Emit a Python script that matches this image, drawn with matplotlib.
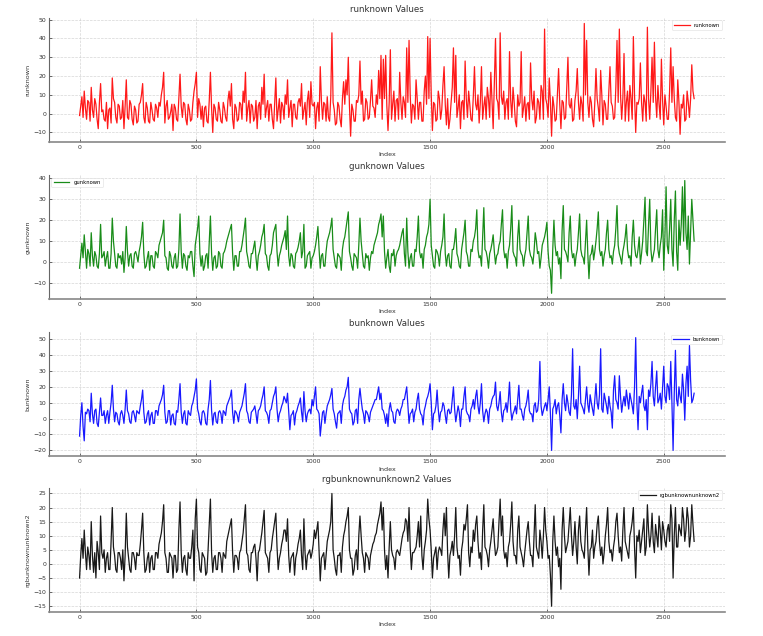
import numpy as np
import matplotlib.pyplot as plt

# readings: one every 10 samples, plus the in-between
# band readings at the half steps (index 5, 15, 25, ...)
index = np.arange(0, 2640, 10)
index_mid = np.arange(5, 2630, 10)

runknown = [
    -1, 9, 12, -3, 6, 14, -2, 5, -8, 16,
    2, -4, -8, 3, 19, 6, -5, 4, -2, -8,
    18, -3, 5, -6, 2, -4, 6, 16, -5, 3,
    -5, 2, -4, 3, 6, 10, 22, 4, -3, 1,
    -9, 3, -4, 21, -2, 5, -6, 2, -3, 12,
    22, 8, -3, -7, 4, -5, 22, -10, 3, -4,
    2, -5, 3, -4, 12, 16, -8, 3, -3, 5,
    12, 22, 3, -5, 4, -2, -8, 6, 14, 21,
    3, -4, 5, -8, 19, 2, -5, 4, 10, 18,
    3, -7, 5, -3, 8, 16, 2, -6, 12, 17,
    4, -8, 6, 25, -3, 5, 9, -4, 43, 2,
    -5, 4, -7, 17, 18, 30, -12, 2, -4, 6,
    28, 12, -3, 6, -2, 18, 3, 10, 23, 31,
    29, 31, -9, 34, 5, -4, 8, 22, -3, 6,
    35, 39, -5, 4, 18, -3, 6, -4, 20, 41,
    40, -9, 5, -3, 8, 2, 25, -6, -8, 6,
    35, 31, 3, -8, 7, 28, -2, 5, -4, 25,
    2, -5, 25, 4, -3, 8, 22, -8, 40, 6,
    43, 5, -3, 8, 33, -2, 6, -7, 4, 33,
    3, -4, 6, 27, 2, -5, 8, -3, 12, 45,
    5, 19, -12, 4, -3, 24, -8, 6, -2, 30,
    3, -4, 7, 24, -3, 5, 48, 39, -2, 6,
    -7, 24, 3, 23, -6, 5, -3, 25, 4, -2,
    39, 45, -3, 32, 6, -4, 8, 41, -10, 5,
    27, -4, 6, 46, -3, 30, 38, -2, 5, 29,
    -6, 4, -3, 35, 25, -2, 18, -11, 3, -4,
    12, -2, 26, 8,
]
runknown_mid = [
    4, -2, 3, 7, -4, 2, 8, -3, 6, 1,
    -3, 6, 2, -5, 8, -2, 5, -3, 7, 4,
    -2, 7, -3, 4, -5, 5, 10, -2, 6, -4,
    6, -3, 5, -2, 4, 14, -5, 7, -2, 5,
    5, -3, 9, 4, 6, -3, 5, -4, 6, 16,
    -2, 5, 4, 3, -4, 7, 3, 5, -3, 6,
    -4, 6, -2, 7, 4, -3, 5, -4, 6, -3,
    6, -4, 7, 5, -4, 7, 4, -3, 5, -2,
    7, 5, -3, 6, -4, 8, 6, -3, 5, -2,
    7, 5, -2, 6, 4, -3, 6, 7, -2, 5,
    6, 3, -4, 7, 6, -4, -2, 9, 6, -6,
    6, -3, 8, 5, 10, 4, 5, -4, 7, 10,
    5, -4, 8, -3, 7, 4, -2, 5, 8, -3,
    8, 4, 6, -3, 12, 7, -3, 6, 9, -2,
    6, 10, 5, -3, 8, 6, -4, 12, 5, 8,
    10, 6, -4, 12, -3, 15, 5, 8, -3, 14,
    6, -2, 10, 6, -3, 8, 12, -3, 9, 5,
    10, 6, -3, 9, 14, -2, 7, 15, 8, -3,
    9, 12, 6, -3, 7, 14, -4, 10, 6, -2,
    9, 5, -3, 8, 12, -2, 6, 15, -3, 8,
    -2, 6, 9, -4, 10, 5, 7, -3, 14, 5,
    8, -3, 12, 6, 9, -4, 10, 6, 9, -3,
    6, 8, -4, 10, 7, -3, 12, 6, -3, 14,
    6, 10, 8, -4, 12, 15, -3, 10, 6, 8,
    6, 10, -4, 8, 12, 6, 9, 15, -3, 7,
    10, -3, 12, 6, 8, -4, 6, 5, 10, -3,
    6, 8, 12,
]

gunknown = [
    -3, 9, 13, -3, 4, 14, -2, 3, -3, 18,
    3, -2, 5, -3, 21, 4, -3, 2, -1, -5,
    17, -2, 4, -3, 5, 0, 8, 19, -3, 2,
    -4, 3, -3, 4, 8, 12, 20, 2, -4, 3,
    -3, 4, -2, 23, -3, 3, -4, 2, 5, -7,
    12, 22, -2, -4, 3, -3, 22, -4, 3, -2,
    4, -3, 5, 10, 14, 18, -4, 3, -2, 5,
    12, 21, 2, -3, 4, 10, -4, 5, 12, 18,
    3, -4, 4, 14, 18, -2, 5, 10, 15, 22,
    -2, 3, -3, 5, 10, 2, 18, -2, 4, -3,
    3, 8, 17, -3, 4, -2, 10, 14, 21, 2,
    -3, 3, -4, 10, 16, 24, 2, -4, 3, -3,
    21, 4, -3, 2, -4, 5, 8, 12, 18, 23,
    22, -3, 6, -5, 3, -2, 5, 8, 14, 4,
    21, -3, 4, -2, 5, 22, 2, -3, 8, 14,
    30, 3, -3, 5, -2, 8, 23, -2, 4, -3,
    6, 16, 2, -3, 10, 20, 3, -2, 5, 12,
    25, 2, -2, 26, 5, -3, 6, 13, -1, 4,
    10, 25, 2, -3, 8, 27, 3, -2, 20, 4,
    -2, 6, 22, 3, -1, 14, 4, -3, 8, 12,
    19, -2, -15, 20, 3, -1, -8, 27, 5, 0,
    22, 2, -2, 6, 23, 3, -1, 20, -8, 4,
    1, 10, 24, 3, -2, 6, 20, 2, -1, 8,
    27, 4, -1, 8, 18, 2, -2, 20, 3, 6,
    -1, 10, 31, 3, 30, 0, 6, 25, 2, 12,
    -4, 36, 4, 30, -2, 34, -4, 8, 36, 39,
    6, -1, 30, 10,
]
gunknown_mid = [
    3, 2, 5, 6, -2, 3, 5, -2, 4, 2,
    5, 2, -3, 4, 10, -2, 4, 3, 5, 2,
    5, 3, -2, 4, 3, 5, 12, 4, -2, 5,
    3, -2, 5, 2, 10, 14, 3, -3, 5, -2,
    2, -3, 6, 5, 4, -2, 3, 5, -2, 8,
    16, 4, 3, -2, 4, 10, 4, 2, -3, 5,
    -2, 4, 7, 12, 16, 4, 3, -2, 5, 8,
    16, 5, -2, 4, 7, 2, 3, 8, 14, 4,
    -2, 3, 8, 16, 5, 3, 8, 12, 6, 3,
    4, -2, 4, 7, 14, 5, -3, 3, 5, 2,
    5, 12, 6, 3, -2, 5, 12, 17, 6, -2,
    4, 2, 6, 12, 20, 5, -2, 4, 2, 8,
    10, -2, 4, 3, 2, 4, 10, 14, 20, 12,
    5, 2, -2, 4, 6, 3, 6, 11, 16, -2,
    5, 2, -2, 6, 12, 5, 4, 6, 12, 18,
    8, -2, 6, 3, 5, 12, 4, 3, -2, 6,
    10, 4, -2, 6, 14, 5, -2, 6, 10, 16,
    6, 3, 12, 6, 2, 4, 9, 5, 3, 8,
    18, 6, 4, 5, 16, 5, 2, 12, 6, 3,
    3, 14, 6, 2, 5, 10, 5, 2, 10, 15,
    5, -4, 6, 8, 5, 2, 15, 6, 3, 14,
    6, 4, 3, 14, 6, 2, 10, 4, 3, 8,
    5, 16, 6, 5, 3, 14, 6, 3, 5, 16,
    8, 2, 5, 12, 6, 3, 12, 8, 2, 12,
    4, 20, 5, 18, 6, 3, 16, 6, 8, 25,
    12, 8, 16, 6, 20, 5, 20, 18, 10, 14,
    22, 14, 20,
]

bunknown = [
    -11, 10, -14, 3, 5, 16, -3, 6, -5, 13,
    2, -3, 5, 4, 21, -2, 3, -4, 5, -3,
    18, 3, -3, 5, -2, 4, 8, 18, -3, 3,
    -4, 4, -3, 5, 8, 12, 21, -3, 5, -4,
    3, -4, 4, 22, -3, 5, -4, 3, 8, 14,
    25, 3, -4, 5, -3, 6, 24, -4, 4, -3,
    5, -3, 4, 8, 12, 18, -3, 4, -2, 6,
    12, 22, 3, -3, 5, 8, -3, 6, 12, 20,
    4, -3, 6, 14, 20, -2, 5, 10, 12, 16,
    -7, 3, -4, 5, 10, 4, 17, -2, 5, 3,
    8, 20, 5, -11, 4, -3, 8, 12, 19, 3,
    -6, 4, -3, 12, 18, 26, 4, -4, 5, -3,
    19, 6, -3, 4, -2, 6, 10, 12, 20, 16,
    5, -3, -5, 10, 4, -3, 6, 2, 8, 12,
    20, -3, 4, -2, 6, 16, 3, -4, 8, 14,
    22, -7, 4, 18, -2, 5, 8, -3, 6, 4,
    20, -2, 8, -5, 6, 20, 3, -2, 8, 6,
    18, 3, 22, -2, 6, -3, 8, 14, 23, 5,
    17, -2, 6, 4, 23, -1, 5, 3, 21, 6,
    -1, 8, 18, 3, -2, 10, 5, 36, 2, 8,
    5, 20, -20, 8, 3, 10, -9, 22, 5, 10,
    2, 44, 6, 0, 33, 8, 3, 20, 4, 10,
    2, 22, 6, 44, 4, 12, 3, 8, -6, 27,
    10, 27, 4, 14, 18, 6, 12, 3, 51, -7,
    10, 21, 5, -7, 14, 36, 8, 30, 12, 6,
    33, 10, 20, 36, -20, 43, 8, 14, 28, -1,
    33, 46, 10, 16,
]
bunknown_mid = [
    2, -5, 4, 6, -2, 3, 5, -3, 4, 2,
    5, 2, -3, 10, 6, 4, -2, 3, 2, 6,
    5, -2, 4, 2, 5, 3, 12, 4, -2, 5,
    2, -3, 5, 2, 10, 15, 4, -2, 5, 2,
    -3, 5, 12, 4, 3, -3, 5, 2, 10, 18,
    6, -2, 4, 3, -4, 12, 5, 3, -2, 4,
    3, 5, 2, 10, 14, 4, 5, 2, 4, 8,
    16, 5, -2, 4, 6, 3, 5, 8, 15, 5,
    2, 5, 10, 16, 6, 3, 8, 14, 10, 4,
    2, 5, 3, 8, 13, -2, 5, 3, 6, 12,
    14, 6, 3, -3, 5, 3, 10, 15, 6, -2,
    3, 5, 8, 14, 20, 6, 3, -2, 6, 12,
    12, 3, 5, 2, 4, 8, 12, 16, 12, 6,
    2, 3, 6, 5, -2, 4, 5, 6, 12, 16,
    8, 3, 6, 4, 12, 6, 2, 5, 12, 17,
    10, 3, 8, 6, 4, 10, 2, 5, 3, 12,
    6, 3, 4, 6, 14, 5, 2, 6, 12, 14,
    8, 10, 5, 3, 4, 6, 12, 15, 8, 10,
    4, 5, 10, 12, 6, 3, 8, 12, 6, 2,
    6, 12, 5, 3, 8, 4, 12, 8, 5, 10,
    12, 3, 6, 12, 8, 2, 12, 10, 15, 4,
    15, 8, 12, 14, 10, 6, 12, 9, 15, 6,
    12, 10, 15, 6, 16, 8, 14, 4, 18, 12,
    6, 14, 10, 8, 12, 16, 8, 20, 10, 14,
    16, 8, 12, 18, 22, 14, 20, 10, 16, 20,
    14, 22, 12, 10, 16, 12, 20, 10, 18, 22,
    14, 24, 12,
]

rgbunknownunknown2 = [
    -5, 9, 12, -2, 3, 15, -3, -5, 4, 17,
    2, -3, 4, -2, 20, 3, -3, 4, -2, -6,
    18, 2, -3, 4, -2, 3, 7, 18, -3, 2,
    -3, 3, -2, 4, 7, 11, 21, 2, -3, 3,
    -5, 3, -2, 22, -3, 3, -4, 2, 6, -6,
    23, 4, -3, 3, -4, 5, 23, -3, 3, -2,
    4, -3, 3, 8, 12, 16, -3, 3, -2, 5,
    11, 21, 3, -3, 4, 7, -6, 5, 11, 19,
    3, -3, 5, 12, 18, -2, 4, 9, 12, 16,
    -3, 3, -4, 4, 9, 3, 16, -2, 4, 2,
    7, 9, 15, -6, 3, -2, 8, 12, 25, 2,
    -4, 3, -3, 10, 15, 20, 2, -4, 3, -2,
    17, 4, -3, 3, -2, 5, 8, 11, 16, 22,
    20, -2, -5, 15, 3, -2, 5, 3, 9, 12,
    15, 20, -2, 4, 6, 15, 17, -2, 8, 23,
    12, -5, 4, -2, 6, 3, 18, 20, -5, 5,
    3, 20, 2, -4, 8, 12, 21, -1, 4, 8,
    17, 2, -2, 21, 5, -1, 8, 16, 3, 6,
    23, 17, 2, -1, 8, 22, 3, 0, 17, 4,
    -1, 8, 15, 3, -1, 21, 4, 12, 2, 20,
    8, 3, -15, 17, 3, -1, -9, 20, 4, 8,
    20, 3, 15, 0, 17, 5, 2, 20, -4, 6,
    2, 8, 17, 3, 0, 10, 20, 4, 1, 9,
    18, 4, 1, 20, 6, 2, 12, 20, -5, 8,
    4, 12, 3, 21, 6, 18, 4, 10, 17, 5,
    12, 6, 14, 21, -5, 20, 6, 12, 20, 8,
    20, 6, 21, 8,
]
rgbunknownunknown2_mid = [
    3, 2, 4, 6, -2, 3, 4, 8, -2, 4,
    5, 2, -2, 8, 6, -2, 4, 2, 5, 3,
    6, -2, 4, 2, 4, 3, 12, 4, -2, 4,
    2, -2, 4, 2, 9, 15, 4, -3, 4, 2,
    3, -3, 12, 4, 2, -2, 4, 2, 12, 16,
    6, -2, 4, 2, -3, 14, 4, 2, -2, 4,
    2, 4, 2, 10, 14, 4, 3, 2, 4, 8,
    16, 4, -2, 4, 6, 2, 4, 8, 15, 4,
    2, 4, 9, 15, 6, 2, 7, 12, 8, 3,
    2, 4, 2, 7, 12, -2, 4, 3, 5, 4,
    12, 12, 4, 2, 4, 3, 10, 15, 5, -2,
    3, 4, 6, 12, 17, 5, 2, -2, 5, 10,
    10, 2, 4, 2, 3, 7, 10, 14, 18, 12,
    5, 3, 6, 5, 2, 4, 4, 6, 11, 16,
    8, 6, 4, 5, 10, 6, 3, 5, 12, 16,
    5, 2, 6, 4, 5, 12, 10, 4, 3, 8,
    10, 6, 3, 5, 14, 16, 4, 6, 12, 14,
    8, 4, 12, 6, 3, 5, 12, 8, 4, 15,
    10, 5, 4, 6, 14, 8, 3, 12, 6, 2,
    4, 12, 8, 3, 10, 6, 2, 8, 10, 12,
    2, -4, 8, 8, 6, 2, 12, 10, 6, 14,
    10, 8, 6, 12, 8, 4, 12, 6, 5, 12,
    6, 14, 8, 6, 4, 14, 8, 5, 6, 15,
    10, 6, 12, 8, 4, 10, 15, 6, 10, 12,
    8, 16, 6, 12, 10, 8, 14, 6, 12, 15,
    8, 12, 8, 16, 10, 6, 14, 10, 16, 12,
    16, 10, 14,
]

series = [
    ("runknown", runknown, runknown_mid, "red", "upper right"),
    ("gunknown", gunknown, gunknown_mid, "green", "upper left"),
    ("bunknown", bunknown, bunknown_mid, "blue", "upper right"),
    ("rgbunknownunknown2", rgbunknownunknown2, rgbunknownunknown2_mid,
     "black", "upper right"),
]

x_all = np.empty(len(index) + len(index_mid))
x_all[0::2] = index
x_all[1::2] = index_mid

fig = plt.figure(figsize=(7.63, 6.36), dpi=100)
bottoms = [0.777, 0.530, 0.283, 0.038]

for (name, vals, mids, color, loc), b in zip(series, bottoms):
    y_all = np.empty(len(x_all))
    y_all[0::2] = vals
    y_all[1::2] = mids
    ax = fig.add_axes([0.064, b, 0.886, 0.195])
    ax.plot(x_all, y_all, color=color, lw=0.9, alpha=0.9, label=name)
    ax.set_title(f"{name} Values", fontsize=6.2, color="#333333", pad=4)
    ax.set_xlabel("Index", fontsize=4.6, color="#333333", labelpad=2)
    ax.set_ylabel(name, fontsize=4.6, color="#333333", labelpad=2)
    ax.grid(True, linestyle="--", linewidth=0.5, color="#cccccc", alpha=0.8)
    ax.set_axisbelow(True)
    for s in ["top", "right"]:
        ax.spines[s].set_visible(False)
    ax.spines["left"].set_color("#666666")
    ax.spines["left"].set_linewidth(0.8)
    ax.spines["bottom"].set_color("#888888")
    ax.spines["bottom"].set_linewidth(1.2)
    ax.tick_params(direction="in", length=2, width=0.5, labelsize=4.4,
                   colors="#333333", pad=2)
    leg = ax.legend(loc=loc, fontsize=3.8, frameon=True, handlelength=3)
    leg.get_frame().set_edgecolor("#dddddd")
    leg.get_frame().set_linewidth(0.5)

plt.savefig("out.png", dpi=100)
